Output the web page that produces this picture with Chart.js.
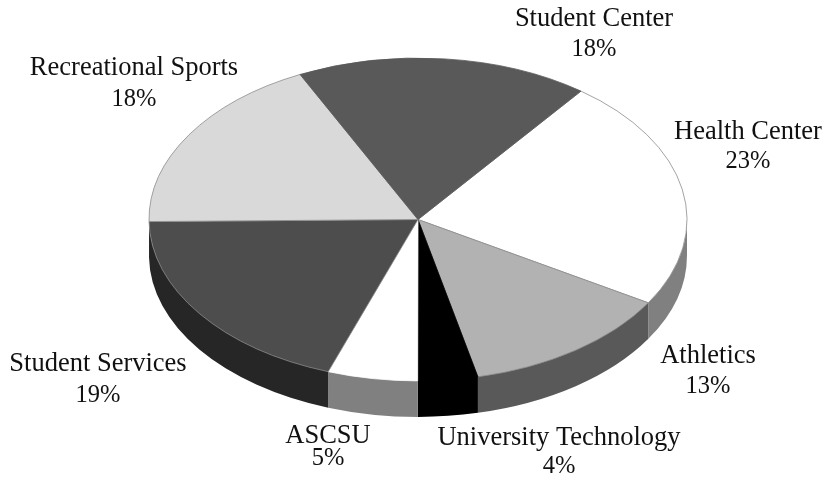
<!DOCTYPE html>
<html>
<head>
<meta charset="utf-8">
<style>
	html, body { margin: 0; padding: 0; background: #fff; }
	canvas { display: block; }
</style>
<script src="https://cdn.jsdelivr.net/npm/chart.js@4"></script>
</head>
<body>
<canvas id="fees-chart" width="828" height="479"></canvas>
<script>
const categories = [
	"Health Center",
	"Athletics",
	"University Technology",
	"ASCSU",
	"Student Services",
	"Recreational Sports",
	"Student Center",
];
const shares = [23.3, 12.8, 3.6, 5.4, 19.4, 18, 17.6];
const percentLabels = ["23%", "13%", "4%", "5%", "19%", "18%", "18%"];

const topColors = ["#ffffff", "#b2b2b2", "#000000", "#ffffff", "#4d4d4d", "#d9d9d9", "#595959"];
const sideColors = ["#808080", "#595959", "#000000", "#808080", "#262626", "#808080", "#595959"];
const edgeColors = ["#8c8c8c", "#8c8c8c", "#000000", "#ffffff", "#8c8c8c", "#8c8c8c", "#595959"];

// label centres, one per category: x, y of the name, y of the percent
const labelSpots = [
	[748, 132, 162],
	[708, 356, 387],
	[559, 438, 467],
	[328, 436, 459],
	[98, 364, 396],
	[134, 68, 100],
	[594, 19, 50],
];

const squash = 0.6;
const depth = 36;

// tilts the pie and draws the rim under it
const tiltPlugin = {
	id: "tilt",
	beforeDatasetsDraw(chart) {
		const ctx = chart.ctx;
		const arcs = chart.getDatasetMeta(0).data;
		arcs.forEach((arc, i) => {
			const from = Math.max(arc.startAngle, 0);
			const to = Math.min(arc.endAngle, Math.PI);
			if (to <= from) return;
			const rx = arc.outerRadius;
			const ry = rx * squash;
			ctx.beginPath();
			// starts 1px up so no seam shows under the top face
			ctx.ellipse(arc.x, arc.y - 1, rx, ry, 0, from, to);
			ctx.ellipse(arc.x, arc.y + depth, rx, ry, 0, to, from, true);
			ctx.closePath();
			ctx.fillStyle = sideColors[i];
			ctx.fill();
		});
		const first = arcs[0];
		ctx.save();
		ctx.translate(first.x, first.y);
		ctx.scale(1, squash);
		ctx.translate(-first.x, -first.y);
	},
	afterDatasetsDraw(chart) {
		chart.ctx.restore();
	},
};

const labelPlugin = {
	id: "sliceLabels",
	afterDraw(chart) {
		const ctx = chart.ctx;
		ctx.save();
		ctx.fillStyle = "#111";
		ctx.textAlign = "center";
		ctx.textBaseline = "middle";
		categories.forEach((name, i) => {
			const spot = labelSpots[i];
			ctx.font = '26.5px "Liberation Serif"';
			ctx.fillText(name, spot[0], spot[1]);
			ctx.font = '24.5px "Liberation Serif"';
			ctx.fillText(percentLabels[i], spot[0], spot[2]);
		});
		ctx.restore();
	},
};

const feesChart = new Chart(document.getElementById("fees-chart"), {
	type: "pie",
	data: {
		labels: categories,
		datasets: [
			{
				data: shares,
				backgroundColor: topColors,
				borderColor: edgeColors,
				borderWidth: 1,
				clip: false,
			},
		],
	},
	options: {
		responsive: false,
		animation: false,
		rotation: 37.3,
		radius: 269,
		layout: { padding: { left: 8, bottom: 40 } },
		events: [],
		plugins: {
			legend: { display: false },
			tooltip: { enabled: false },
		},
	},
	plugins: [tiltPlugin, labelPlugin],
});
</script>
</body>
</html>
